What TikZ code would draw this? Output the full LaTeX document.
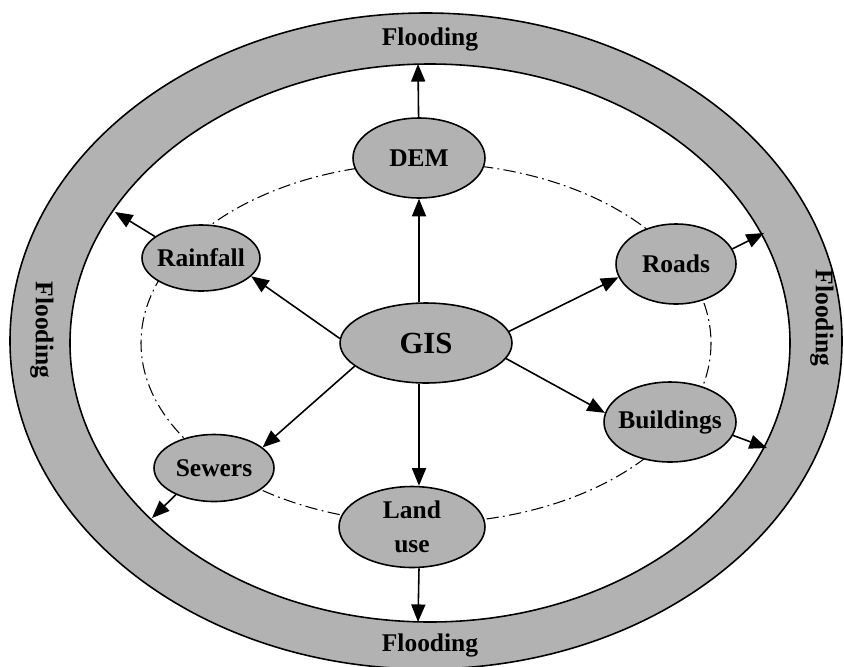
\documentclass[tikz,border=0pt]{standalone}
\usepackage{fontspec}
\setmainfont{Liberation Serif}
\usepackage{xcolor}
\usepackage{tikz}
\usetikzlibrary{shapes.geometric, arrows.meta, positioning}

\definecolor{ringgray}{gray}{0.7}

\begin{document}
\begin{tikzpicture}[
        x=0.02cm, y=-0.02cm,
        layer/.style={draw, ellipse, fill=ringgray, line width=0.9pt, inner xsep=-3mm, inner ysep=0pt, align=center, font=\fontsize{14.5}{19.4}\selectfont\bfseries},
        hub/.style={layer, font=\fontsize{17.5}{21}\selectfont\bfseries},
        flood/.style={inner sep=0pt, font=\fontsize{14.5}{17}\selectfont\bfseries},
        arrow/.style={-{Triangle[length=10pt, width=8pt]}, line width=0.9pt},
        link/.style={line width=0.6pt, dash pattern=on 7pt off 2.5pt on 1pt off 2.5pt}
    ]
        \useasboundingbox (0,0) rectangle (844,666);

        % Flooding ring
        \path[fill=ringgray, draw=black, line width=0.9pt, even odd rule]
            (426,341) ellipse [x radius=416, y radius=328]
            (430,343) ellipse [x radius=360, y radius=279];
        \node (ftop) [flood] at (430,39) {Flooding};
        \node (fbot) [flood] at (430,645) {Flooding};
        \node (fleft) [flood, rotate=-90] at (42,330) {Flooding};
        \node (fright) [flood, rotate=-90] at (822,318) {Flooding};

        % Layer ring
        \draw [link] (426,343) ellipse [x radius=285, y radius=180];

        % Layers
        \node (gis) [hub, minimum width=3.44cm, minimum height=1.6cm] at (426,343) {GIS};
        \node (dem) [layer, minimum width=2.64cm, minimum height=1.6cm] at (419,158) {DEM};
        \node (rainfall) [layer, minimum width=2.36cm, minimum height=1.32cm] at (201,258) {Rainfall};
        \node (roads) [layer, minimum width=2.4cm, minimum height=1.6cm] at (676,264) {Roads};
        \node (buildings) [layer, minimum width=2.64cm, minimum height=1.6cm] at (670,422) {Buildings};
        \node (sewers) [layer, minimum width=2.4cm, minimum height=1.34cm] at (214,468) {Sewers};
        \node (landuse) [layer, minimum width=2.92cm, minimum height=1.62cm] at (412,527) {Land\\use};

        % Ends on the ring
        \coordinate (eDEM) at (418,64);
        \coordinate (eRain) at (115,212);
        \coordinate (eRoads) at (764,233);
        \coordinate (eBuild) at (767,448);
        \coordinate (eSewers) at (152,518);
        \coordinate (eLand) at (418,622);

        % GIS Connections
        \draw [arrow] (gis.north -| dem) -- (dem);
        \draw [arrow] (gis.177) -- (rainfall.-20);
        \draw [arrow] (gis.8) -- (roads.193);
        \draw [arrow] (gis.-11) -- (buildings.172);
        \draw [arrow] (gis.198) -- (sewers.23);
        \draw [arrow] (gis.south -| dem) -- (landuse.north -| dem);

        % Flooding Connections
        \draw [arrow] (dem) -- (eDEM);
        \draw [arrow] (rainfall.155) -- (eRain);
        \draw [arrow] (roads.15) -- (eRoads);
        \draw [arrow] (buildings.-12) -- (eBuild);
        \draw [arrow] (sewers.215) -- (eSewers);
        \draw [arrow] (landuse.south -| dem) -- (eLand);
    \end{tikzpicture}
\end{document}
